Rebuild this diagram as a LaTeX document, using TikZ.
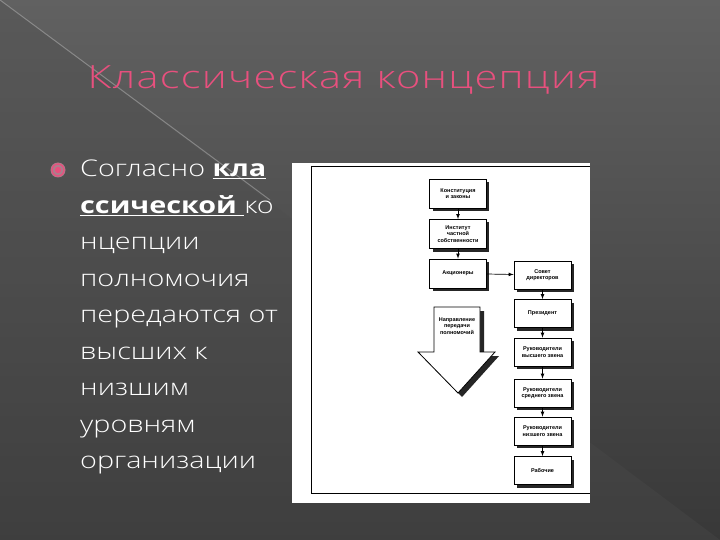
\documentclass[tikz,border=0pt]{standalone}
\usepackage{fontspec}
\setmainfont[FakeStretch=1.25]{Open Sans Light}[BoldFont=Open Sans Bold]
\newfontfamily\titlefont[LetterSpace=4,FakeStretch=1.3]{Open Sans Light}
\newfontfamily\boxfont{Liberation Sans}
\usetikzlibrary{shadings}
\definecolor{pinkc}{HTML}{E8507E}
\begin{document}
\begin{tikzpicture}[x=1pt,y=-1pt,
  box/.style={draw=black,line width=0.8pt,fill=white,minimum width=57pt,minimum height=29pt,inner sep=1pt,align=center,font=\boxfont\bfseries\fontsize{5.5}{6.5}\selectfont},
  shd/.style={fill=black!85},
  arr/.style={-latex,line width=0.7pt}]
\useasboundingbox (0,0) rectangle (720,540);
\shade[top color=black!62,bottom color=black!78] (0,0) rectangle (720,540);
\fill[black!70,opacity=0.35] (0,0) -- (720,540) -- (0,540) -- cycle;
\draw[white!60!gray,opacity=0.4,line width=1pt] (0,0) -- (270,200);
% title
\node[anchor=base west,text=pinkc,font=\titlefont\fontsize{32}{36}\selectfont] (title) at (84,89) {Классическая концепция};
% bullet
\fill[pinkc!50!black!60] (58,170) circle (7.5);
\draw[pinkc,line width=1.3pt] (58,170) circle (6);
\fill[pinkc] (58,170) circle (3.2);
% body text
\node[anchor=north west,text=white,align=left,inner sep=0,font=\fontsize{23}{36.5}\selectfont] (body) at (80,160)
{Согласно \textbf{\underline{кла}}\\ \textbf{\underline{ссической }}ко\\ нцепции\\ полномочия\\ передаются от\\ высших к\\ низшим\\ уровням\\ организации};
% image
\fill[white] (292,163) rectangle (590,503);
\draw[black,line width=1pt] (311,166) -- (311,493) -- (590,493);
\draw[black,line width=0.8pt] (311,166) -- (590,166);
% left column
\foreach \n/\y/\t in {b1/193.5/{Конституция\\и законы},b2/234/{Институт\\частной\\собственности},b3/273.5/{Акционеры}}{
  \fill[shd] (430+3,\y-14.5+3) rectangle (486+3,\y+14.5+3);
  \node[box] (\n) at (458,\y) {\t};
}
\foreach \n/\y/\t in {c1/275/{Совет\\директоров},c2/313.5/{Президент},c3/352/{Руководители\\высшего звена},c4/393/{Руководители\\среднего звена},c5/431/{Руководители\\низшего звена},c6/470.5/{Рабочие}}{
  \fill[shd] (514+3,\y-14+3) rectangle (571+3,\y+14+3);
  \node[box,minimum height=28pt] (\n) at (542.5,\y) {\t};
}
\draw[arr] (b1) -- (b2);
\draw[arr] (b2) -- (b3);
\draw[arr] (b3) -- (c1);
\draw[arr] (c1) -- (c2);
\draw[arr] (c2) -- (c3);
\draw[arr] (c3) -- (c4);
\draw[arr] (c4) -- (c5);
\draw[arr] (c5) -- (c6);
% big arrow
\fill[black!85] (438,311) -- (484,311) -- (484,356) -- (499,356) -- (462,397) -- (422,356) -- (438,356) -- cycle;
\draw[fill=white,line width=0.8pt] (434,307) -- (480,307) -- (480,352) -- (495,352) -- (458,393) -- (418,352) -- (434,352) -- cycle;
\node[align=center,font=\boxfont\bfseries\fontsize{5.5}{6.5}\selectfont] (arrtxt) at (457,326) {Направление\\передачи\\полномочий};
\end{tikzpicture}
\end{document}
